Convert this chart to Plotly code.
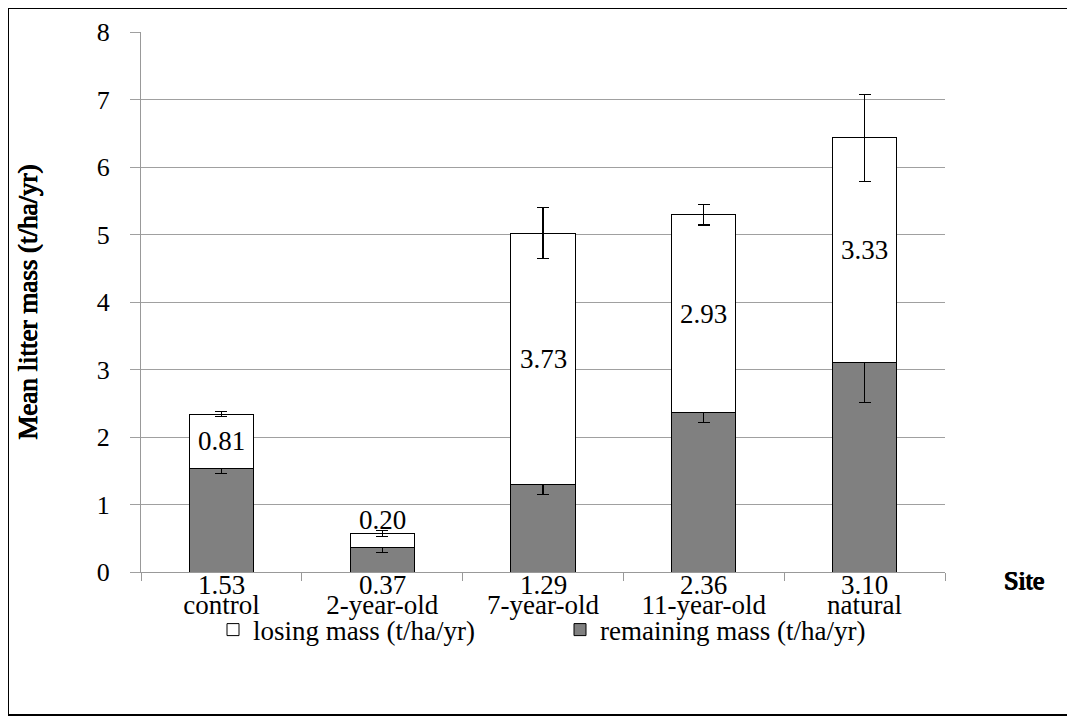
import plotly.graph_objects as go

sites = ["control", "2-year-old", "7-year-old", "11-year-old", "natural"]
remaining = [1.53, 0.37, 1.29, 2.36, 3.10]
remaining_err = [0.065, 0.08, 0.14, 0.14, 0.59]
losing = [0.81, 0.20, 3.73, 2.93, 3.33]
total_err = [0.04, 0.04, 0.38, 0.15, 0.64]
y_ticks = [0, 1, 2, 3, 4, 5, 6, 7, 8]

FONT = "Liberation Serif"
BOLD_SHADOW = "0.7px 0 0 #000, -0.7px 0 0 #000, 0 0.5px 0 #000"
W, H = 1067, 714
ML, MR, MT, MB = 133, 130, 24, 150
PW, PH = W - ML - MR, H - MT - MB

fig = go.Figure()
fig.add_trace(go.Bar(
    x=sites, y=remaining, name="remaining mass (t/ha/yr)",
    marker=dict(color="#808080", line=dict(color="#000000", width=1)),
    error_y=dict(type="data", array=remaining_err, color="#000000", thickness=1.2, width=6),
    width=0.4,
))
fig.add_trace(go.Bar(
    x=sites, y=losing, name="losing mass (t/ha/yr)",
    marker=dict(color="#ffffff", line=dict(color="#000000", width=1)),
    error_y=dict(type="data", array=total_err, color="#000000", thickness=1.2, width=6),
    width=0.4,
))

# value labels for losing mass
for s, r, l in zip(sites, remaining, losing):
    y = r + l + 0.2 if l < 0.5 else r + l / 2
    fig.add_annotation(x=s, y=y, text=f"{l:.2f}", showarrow=False,
                       font=dict(family=FONT, size=27, color="#000000"))

# remaining-mass values under the axis
for s, r in zip(sites, remaining):
    fig.add_annotation(x=s, xref="x", y=0, yref="paper", text=f"{r:.2f}", showarrow=False,
                       yanchor="middle", yshift=-13,
                       font=dict(family=FONT, size=27, color="#000000"))

fig.add_annotation(xref="paper", yref="paper", x=(1016 - ML) / PW, y=-0.015, text="Site",
                   showarrow=False,
                   font=dict(family=FONT, size=26, color="#000000", shadow=BOLD_SHADOW),
                   xanchor="center", yanchor="middle")

# outer frame
fig.add_shape(type="rect", xref="paper", yref="paper",
              x0=(0 - ML) / PW, x1=(1060 - ML) / PW,
              y0=(MT + PH - 707) / PH, y1=(MT + PH - 0) / PH,
              line=dict(color="#000000", width=2), fillcolor="rgba(0,0,0,0)", layer="below")

fig.update_layout(
    barmode="stack",
    width=W, height=H,
    margin=dict(l=ML, r=MR, t=MT, b=MB, autoexpand=False),
    paper_bgcolor="#ffffff", plot_bgcolor="#ffffff",
    font=dict(family=FONT, size=27, color="#000000"),
    showlegend=True,
    legend=dict(orientation="h", x=(205 - ML) / PW, xanchor="left", y=-0.1075, yanchor="middle",
                bgcolor="rgba(255,255,255,0)",
                traceorder="reversed", font=dict(family=FONT, size=27),
                itemwidth=30, entrywidth=302, entrywidthmode="pixels"),
    xaxis=dict(tickmode="array", tickvals=sites, ticktext=sites,
               showline=True, linecolor="#999999", linewidth=1,
               ticks="outside", tickson="boundaries", ticklen=8, tickcolor="#999999",
               ticklabelstandoff=9,
               tickfont=dict(family=FONT, size=27)),
    yaxis=dict(range=[0, 8], tickvals=y_ticks, showgrid=True, gridcolor="#a0a0a0", gridwidth=1,
               showline=True, linecolor="#999999", linewidth=1,
               ticks="outside", ticklen=10, tickcolor="#a0a0a0",
               ticklabelstandoff=15,
               tickfont=dict(family=FONT, size=26),
               title=dict(text="Mean litter mass (t/ha/yr)",
                          font=dict(family=FONT, size=27, shadow=BOLD_SHADOW), standoff=51),
               zeroline=False),
)

fig.write_html("out.html")
